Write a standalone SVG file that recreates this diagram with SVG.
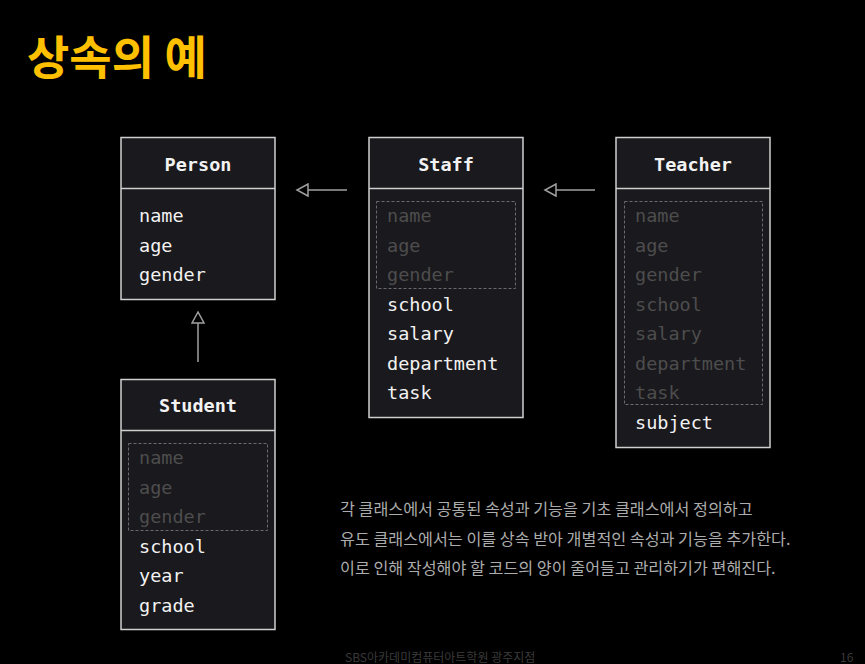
<svg xmlns="http://www.w3.org/2000/svg" width="865" height="664" viewBox="0 0 865 664">
<defs>
<style>
.box{fill:#1a191d;stroke:#cfcfcf;stroke-width:1.5}
.div{stroke:#cfcfcf;stroke-width:1.5}
.dash{fill:none;stroke:#6a6a6a;stroke-width:1;stroke-dasharray:3 2}
.t{font-family:"DejaVu Sans Mono","Liberation Mono",monospace;font-size:18.5px;font-weight:bold;fill:#f2f2f2;text-anchor:middle}
.i{font-family:"DejaVu Sans Mono","Liberation Mono",monospace;font-size:18.5px;fill:#f2f2f2}
.f{fill:#4d4d4d}
.conn{stroke:#a0a0a0;stroke-width:1.5;fill:none}
.k{font-family:"Noto Sans CJK KR","Noto Sans",sans-serif}
</style>
<marker id="tri" markerWidth="14" markerHeight="14" refX="12" refY="7" orient="auto" markerUnits="userSpaceOnUse">
<path d="M1,1 L12,7 L1,13 Z" fill="#000" stroke="#a0a0a0" stroke-width="1.5"/>
</marker>
</defs>
<rect width="865" height="664" fill="#000"/>
<text class="k" x="27" y="74" font-size="46" font-weight="bold" fill="#ffc000">상속의 예</text>

<g id="connectors">
<line class="conn" x1="347" y1="190" x2="297" y2="190" marker-end="url(#tri)"/>
<line class="conn" x1="595" y1="190" x2="545" y2="190" marker-end="url(#tri)"/>
<line class="conn" x1="198" y1="362" x2="198" y2="312" marker-end="url(#tri)"/>
</g>

<g id="person">
<rect class="box" x="121" y="137.5" width="154" height="162"/>
<line class="div" x1="121" y1="188.5" x2="275" y2="188.5"/>
<text class="t" x="198" y="171">Person</text>
<text class="i" x="139" y="222">name</text>
<text class="i" x="139" y="252">age</text>
<text class="i" x="139" y="281">gender</text>
</g>

<g id="staff">
<rect class="box" x="369" y="137.5" width="154" height="280"/>
<line class="div" x1="369" y1="188.5" x2="523" y2="188.5"/>
<text class="t" x="446" y="171">Staff</text>
<rect class="dash" x="376.5" y="201.5" width="139" height="87"/>
<text class="i f" x="387" y="222">name</text>
<text class="i f" x="387" y="252">age</text>
<text class="i f" x="387" y="281">gender</text>
<text class="i" x="387" y="311">school</text>
<text class="i" x="387" y="340">salary</text>
<text class="i" x="387" y="370">department</text>
<text class="i" x="387" y="399">task</text>
</g>

<g id="teacher">
<rect class="box" x="616" y="137.5" width="154" height="310"/>
<line class="div" x1="616" y1="188.5" x2="770" y2="188.5"/>
<text class="t" x="693" y="171">Teacher</text>
<rect class="dash" x="624.5" y="201.5" width="138" height="203"/>
<text class="i f" x="635" y="222">name</text>
<text class="i f" x="635" y="252">age</text>
<text class="i f" x="635" y="281">gender</text>
<text class="i f" x="635" y="311">school</text>
<text class="i f" x="635" y="340">salary</text>
<text class="i f" x="635" y="370">department</text>
<text class="i f" x="635" y="399">task</text>
<text class="i" x="635" y="429">subject</text>
</g>

<g id="student">
<rect class="box" x="121" y="379.5" width="154" height="250"/>
<line class="div" x1="121" y1="430.5" x2="275" y2="430.5"/>
<text class="t" x="198" y="412">Student</text>
<rect class="dash" x="128.5" y="443.5" width="139" height="87"/>
<text class="i f" x="139" y="464">name</text>
<text class="i f" x="139" y="494">age</text>
<text class="i f" x="139" y="523">gender</text>
<text class="i" x="139" y="553">school</text>
<text class="i" x="139" y="582">year</text>
<text class="i" x="139" y="612">grade</text>
</g>

<g class="k" font-size="16.2" fill="#acacac">
<text x="340" y="515">각 클래스에서 공통된 속성과 기능을 기초 클래스에서 정의하고</text>
<text x="340" y="545">유도 클래스에서는 이를 상속 받아 개별적인 속성과 기능을 추가한다.</text>
<text x="340" y="574">이로 인해 작성해야 할 코드의 양이 줄어들고 관리하기가 편해진다.</text>
</g>
<text class="k" x="345" y="662" font-size="12" fill="#3a3a3a">SBS아카데미컴퓨터아트학원 광주지점</text>
<text class="k" x="840" y="662" font-size="12" fill="#3a3a3a">16</text>
</svg>
